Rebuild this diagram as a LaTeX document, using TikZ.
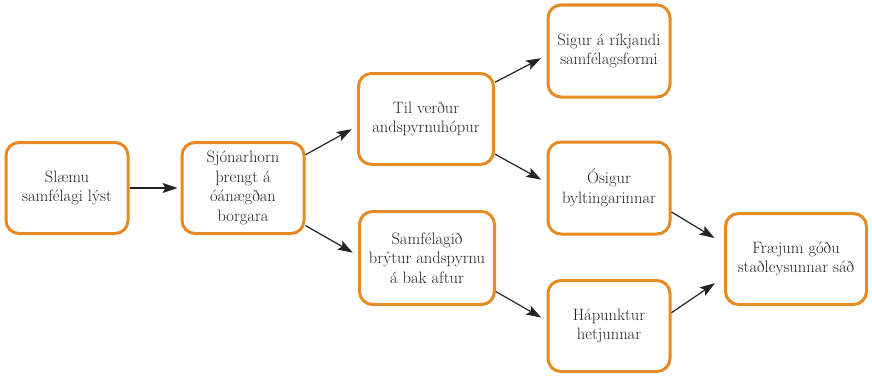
\documentclass[tikz,border=0pt]{standalone}
\usepackage{fontspec}
\usepackage{tikz}
\usetikzlibrary{arrows.meta}
\usetikzlibrary{positioning}
\definecolor{boxorange}{RGB}{230,138,36}
\definecolor{textgray}{RGB}{35,35,35}
\tikzset{stage/.style={draw=boxorange, line width=3pt, rounded corners=13pt,
  align=center, text=textgray, font=\fontsize{16.5}{19.5}\selectfont,
  minimum width=122pt, minimum height=91pt, inner sep=2pt},
flow/.style={-{Stealth[length=15pt,width=10pt,inset=3pt]}, line width=1.2pt, textgray}
}
\begin{document}
\begin{tikzpicture}[x=1pt, y=1pt, on grid]
        \useasboundingbox (0,0) rectangle (872,376);
        \node[stage]                    (a) at (67,188)                   {Slæmu\\samfélagi lýst};
        \node[stage]                    (b) [right=176pt of a]            {Sjónarhorn\\þrengt á\\óánægðan\\borgara};
        \node[stage, minimum width=135pt] (c) [above right=69pt and 183pt of b] {Til verður\\andspyrnuhópur};
        \node[stage, minimum width=135pt, minimum height=93pt] (d) [below right=70pt and 184pt of b] {Samfélagið\\brýtur andspyrnu\\á bak aftur};
        \node[stage, minimum height=92pt] (e) [above right=68pt and 183pt of c] {Sigur á ríkjandi\\samfélagsformi};
        \node[stage, minimum height=92pt] (f) [below right=69pt and 183pt of c] {Ósigur\\byltingarinnar};
        \node[stage]                    (g) [below right=68pt and 182pt of d] {Hápunktur\\hetjunnar};
        \node[stage, minimum width=141pt] (h) [below right=71pt and 187pt of f] {Fræjum góðu\\staðleysunnar sáð};

        \draw[flow, shorten >=3pt] (a) -- (b);
        \draw[flow, shorten >=6pt] (b.28)  -- (c.186);
        \draw[flow, shorten >=6pt] (b.-31) -- (d.178);
        \draw[flow, shorten >=6pt] (c.28)  -- (e.184);
        \draw[flow, shorten >=6pt] (c.-27) -- (f.175);
        \draw[flow, shorten >=6pt] (d.-26) -- (g.175);
        \draw[flow, shorten >=11pt] (f.-21) -- (h.168);
        \draw[flow, shorten >=11pt] (g.12)  -- (h.194);
      \end{tikzpicture}
\end{document}
